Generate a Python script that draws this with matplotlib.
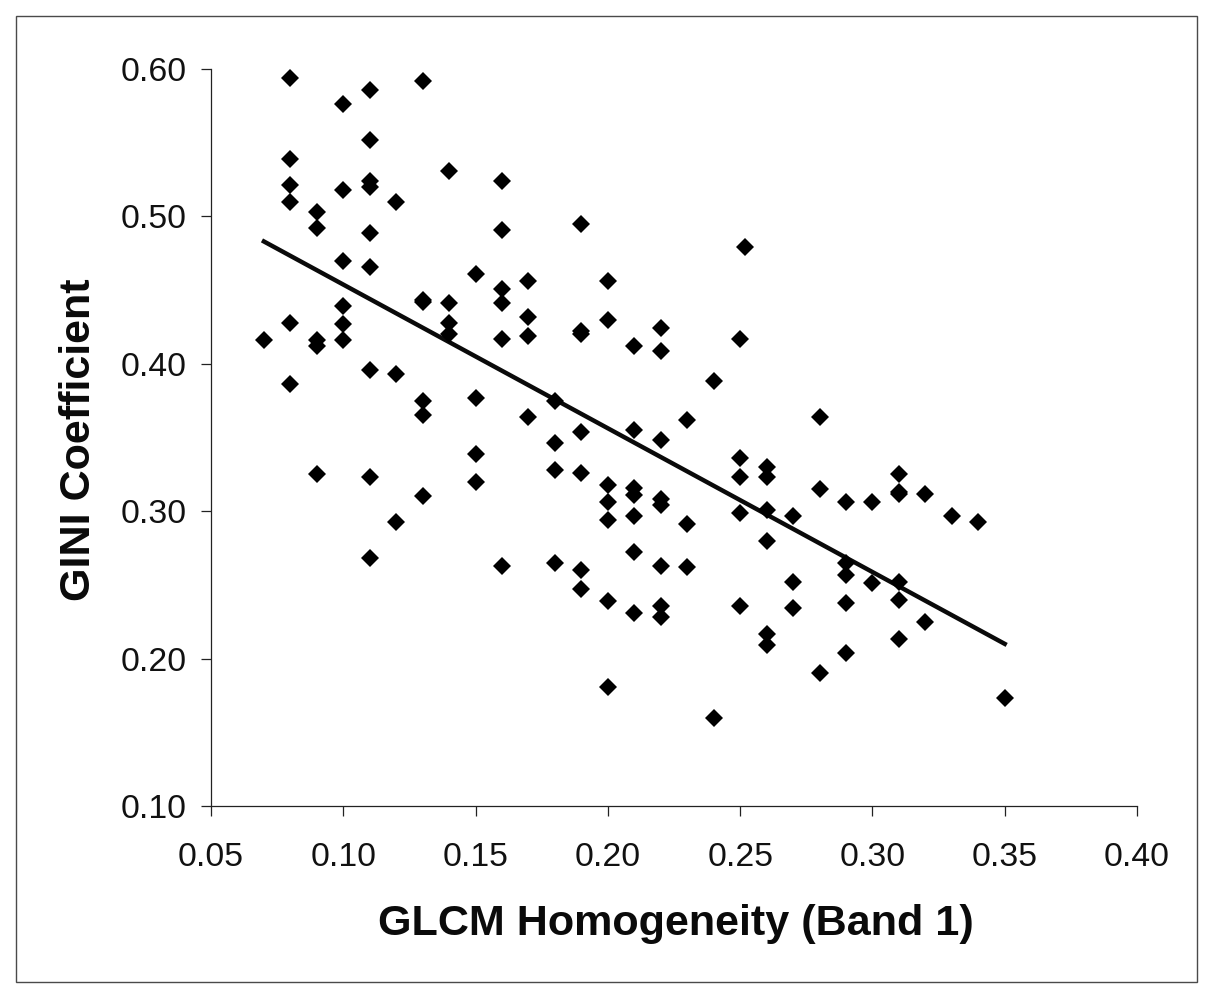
import matplotlib
matplotlib.use("Agg")
import matplotlib.pyplot as plt
from matplotlib.patches import Rectangle

homogeneity = [0.07,
 0.08,0.08,0.08,0.08,0.08,0.08,
 0.09,0.09,0.09,0.09,0.09,
 0.10,0.10,0.10,0.10,0.10,0.10,
 0.11,0.11,0.11,0.11,0.11,0.11,0.11,0.11,0.11,
 0.12,0.12,0.12,
 0.13,0.13,0.13,0.13,0.13,0.13,
 0.14,0.14,0.14,0.14,
 0.15,0.15,0.15,0.15,
 0.16,0.16,0.16,0.16,0.16,0.16,
 0.17,0.17,0.17,0.17,
 0.18,0.18,0.18,0.18,
 0.19,0.19,0.19,0.19,0.19,0.19,0.19,
 0.20,0.20,0.20,0.20,0.20,0.20,0.20,
 0.21,0.21,0.21,0.21,0.21,0.21,0.21,
 0.22,0.22,0.22,0.22,0.22,0.22,0.22,0.22,
 0.23,0.23,0.23,
 0.24,0.24,
 0.25,0.25,0.25,0.25,0.25,
 0.252,
 0.26,0.26,0.26,0.26,0.26,0.26,
 0.27,0.27,0.27,
 0.28,0.28,0.28,
 0.29,0.29,0.29,0.29,0.29,
 0.30,0.30,
 0.31,0.31,0.31,0.31,0.31,0.31,
 0.32,0.32,
 0.33,0.34,0.35]
gini = [0.416,
 0.594,0.539,0.521,0.510,0.428,0.386,
 0.503,0.492,0.416,0.412,0.325,
 0.576,0.518,0.470,0.439,0.427,0.416,
 0.586,0.552,0.524,0.520,0.489,0.466,0.396,0.323,0.268,
 0.510,0.393,0.293,
 0.592,0.443,0.442,0.375,0.365,0.310,
 0.531,0.441,0.428,0.420,
 0.461,0.377,0.339,0.320,
 0.524,0.491,0.451,0.441,0.417,0.263,
 0.456,0.432,0.419,0.364,
 0.375,0.346,0.328,0.265,
 0.495,0.422,0.420,0.354,0.326,0.260,0.247,
 0.456,0.430,0.318,0.306,0.294,0.239,0.181,
 0.412,0.355,0.316,0.311,0.297,0.272,0.231,
 0.424,0.409,0.348,0.308,0.304,0.263,0.236,0.228,
 0.362,0.291,0.262,
 0.388,0.160,
 0.417,0.336,0.323,0.299,0.236,
 0.479,
 0.330,0.323,0.301,0.280,0.217,0.209,
 0.297,0.252,0.234,
 0.364,0.315,0.190,
 0.306,0.265,0.257,0.238,0.204,
 0.306,0.251,
 0.325,0.313,0.312,0.252,0.240,0.213,
 0.312,0.225,
 0.297,0.293,0.173]
trend_x = [0.07, 0.35]
trend_y = [0.483, 0.210]
x_ticks = [0.05,0.10,0.15,0.20,0.25,0.30,0.35,0.40]
y_ticks = [0.10,0.20,0.30,0.40,0.50,0.60]

plt.rcParams['font.family'] = ['Liberation Sans', 'DejaVu Sans']
W, H = 1214, 1000
fig = plt.figure(figsize=(W/100, H/100), dpi=100)
fig.add_artist(Rectangle((16/W, 1-982/H), (1197-16)/W, (982-16)/H, transform=fig.transFigure,
                         fill=False, edgecolor='#4a4a4a', linewidth=1.0))
ax = fig.add_axes([211/W, 1-806/H, (1137-211)/W, (806-69)/H])
ax.plot(homogeneity, gini, linestyle='none', marker='D', markersize=8.8,
        color='black', markeredgewidth=0, clip_on=False, zorder=3)
ax.plot(trend_x, trend_y, color='#0a0a0a', linewidth=3.2, zorder=2)
ax.set_xlim(0.05, 0.40)
ax.set_ylim(0.10, 0.60)
ax.set_xticks(x_ticks, [f"{v:.2f}" for v in x_ticks])
ax.set_yticks(y_ticks, [f"{v:.2f}" for v in y_ticks])
ax.spines['top'].set_visible(False)
ax.spines['right'].set_visible(False)
for s in ('left', 'bottom'):
    ax.spines[s].set_linewidth(0.9)
    ax.spines[s].set_color('#222222')
ax.tick_params(axis='both', labelsize=24.3, length=7, width=0.9, color='#222222', labelcolor='#111111')
ax.tick_params(axis='x', pad=19)
ax.tick_params(axis='y', pad=10.5)
fig.text(676/W, 1-924/H, "GLCM Homogeneity (Band 1)", ha='center', va='center',
         fontsize=31.1, fontweight='bold', color='#0a0a0a')
fig.text(79/W, 1-440/H, "GINI Coefficient", ha='center', va='center', rotation=90,
         fontsize=31.1, fontweight='bold', color='#0a0a0a')
fig.savefig("out.png", dpi=100, facecolor='white')
